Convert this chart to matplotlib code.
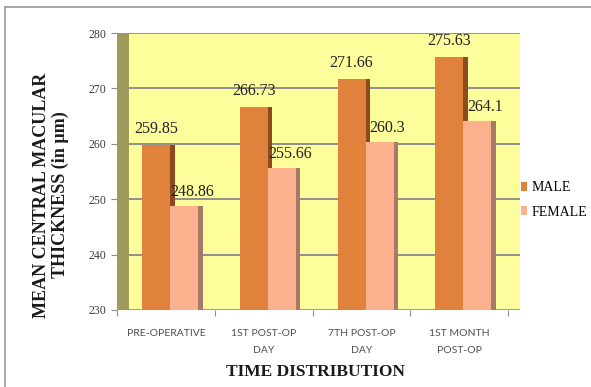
import matplotlib
matplotlib.use("Agg")
import matplotlib.pyplot as plt
import numpy as np
from matplotlib.patches import Rectangle, Patch

# ── Data ──────────────────────────────────────────────────────────────────────
categories = ["PRE-OPERATIVE", "1ST POST-OP\nDAY", "7TH POST-OP\nDAY", "1ST MONTH\nPOST-OP"]
male = [259.85, 266.73, 271.66, 275.63]
female = [248.86, 255.66, 260.3, 264.1]
male_labels = ["259.85", "266.73", "271.66", "275.63"]
female_labels = ["248.86", "255.66", "260.3", "264.1"]
y_ticks = [230, 240, 250, 260, 270, 280]

# ── Colours ───────────────────────────────────────────────────────────────────
MALE_C = "#e0813c"
MALE_SIDE = "#8c4a1e"
FEMALE_C = "#fbb18e"
FEMALE_SIDE = "#a67a66"
WALL = "#fdfd9c"
SIDE_WALL = "#a09b5c"
GRID = "#8e8e8e"
TXT = "#3a3a3a"

W, H = 591, 387
fig = plt.figure(figsize=(W / 100, H / 100), dpi=100)
fig.patch.set_facecolor("white")

# outer chart border (cropped on right/bottom)
fig.add_artist(plt.Line2D([5 / W, 5 / W], [0, 1 - 7 / H], transform=fig.transFigure,
                          color="#9a9a9a", lw=1.2))
fig.add_artist(plt.Line2D([5 / W, 1], [1 - 7 / H, 1 - 7 / H], transform=fig.transFigure,
                          color="#9a9a9a", lw=1.2))

# plot area in pixels: front x 117..508, back wall to 520, y 33..310
left, right, top, bottom = 117, 520, 33, 310
ax = fig.add_axes([left / W, 1 - bottom / H, (right - left) / W, (bottom - top) / H])
cat_px = (508 - 117) / 4
depth = 12 / cat_px
ax.set_xlim(-0.5, 3.5 + depth)
ax.set_ylim(230, 280)
ax.set_facecolor("none")
for s in ax.spines.values():
    s.set_visible(False)

# back wall and side wall
ax.add_patch(Rectangle((-0.5 + depth, 230), 4, 50, facecolor=WALL, edgecolor="none", zorder=0))
ax.add_patch(Rectangle((-0.5, 230), depth, 50, facecolor=SIDE_WALL, edgecolor="none", zorder=0))
for yv in y_ticks[1:]:
    ax.plot([-0.5 + depth, 3.5 + depth], [yv, yv], color=GRID, lw=1.4, zorder=1,
            solid_capstyle="butt")
ax.plot([-0.5, 3.5 + depth], [230, 230], color=GRID, lw=1.2, zorder=1)

# bars with a dark side face
bw = 28 / cat_px
side = 4.5 / cat_px
x = np.arange(len(categories))
m_left = x - 0.5 + 25 / cat_px
f_left = m_left + bw
ax.bar(m_left + bw + side / 2, np.array(male) - 230, side, bottom=230, color=MALE_SIDE, zorder=2)
ax.bar(m_left + bw / 2, np.array(male) - 230, bw, bottom=230, color=MALE_C, zorder=3)
ax.bar(f_left + bw + side / 2, np.array(female) - 230, side, bottom=230, color=FEMALE_SIDE, zorder=4)
ax.bar(f_left + bw / 2, np.array(female) - 230, bw, bottom=230, color=FEMALE_C, zorder=5)

# value labels
for i in range(len(categories)):
    ax.annotate(male_labels[i], (m_left[i] + bw / 2, male[i]), xytext=(0, 16),
                textcoords="offset pixels", ha="center", va="center",
                family="Liberation Serif", fontsize=11.5, color="#222222", zorder=6)
    ax.annotate(female_labels[i], (f_left[i] + bw / 2, female[i]), xytext=(8, 14),
                textcoords="offset pixels", ha="center", va="center",
                family="Liberation Serif", fontsize=11.5, color="#222222", zorder=6)

# y axis ticks
ax.set_yticks(y_ticks)
ax.set_yticklabels([str(v) for v in y_ticks], family="Liberation Serif", fontsize=8.5, color=TXT)
ax.tick_params(axis="y", length=4, width=0.8, color=GRID, pad=4)

# x axis: boundary ticks + centred category labels
ax.set_xticks(x)
ax.set_xticklabels(categories, family="Lato", fontsize=7.5, color="#505050", linespacing=2.1)
ax.set_xticks(np.arange(-0.5, 4.0, 1.0), minor=True)
ax.tick_params(axis="x", which="major", length=0, pad=14)
ax.tick_params(axis="x", which="minor", length=4, width=0.8, color=GRID)

# axis titles
fig.text(51 / W, 1 - 195 / H, "MEAN CENTRAL MACULAR\nTHICKNESS (in µm)", rotation=90,
         ha="center", va="center", multialignment="center", family="Liberation Serif",
         fontweight="bold", fontsize=13, linespacing=1.1, color="#1a1a1a")
fig.text(315 / W, 1 - 372 / H, "TIME DISTRIBUTION", ha="center", va="center",
         family="Liberation Serif", fontweight="bold", fontsize=12.5, color="#1a1a1a")

# legend
handles = [Patch(facecolor=MALE_C, label="MALE"), Patch(facecolor=FEMALE_C, label="FEMALE")]
fig.legend(handles=handles, loc="center left", bbox_to_anchor=(521 / W, 1 - 200 / H),
           frameon=False, handlelength=0.45, handleheight=0.6, handletextpad=0.3,
           labelspacing=0.8, borderaxespad=0, borderpad=0,
           prop={"family": "Liberation Serif", "size": 10})

fig.savefig("out.png", dpi=100)
